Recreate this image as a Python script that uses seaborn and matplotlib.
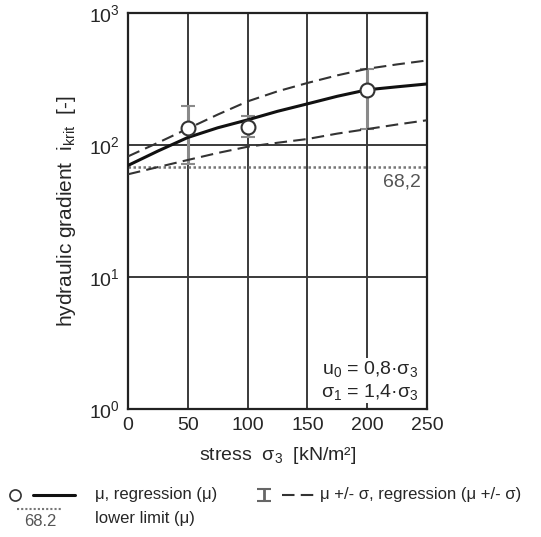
import matplotlib
matplotlib.use("Agg")
import matplotlib.pyplot as plt
import seaborn as sns
import numpy as np

# messwerte (mittelwert und streuung) je spannung
stress = [50, 100, 200]
mu = [134, 138, 262]
mu_plus = [196, 167, 378]
mu_minus = [72, 114, 132]

x_reg = [0, 25, 50, 75, 100, 125, 150, 175, 200, 225, 250]
reg_mu = [70, 90, 114, 135, 155, 180, 205, 234, 262, 276, 290]
reg_plus = [82, 104, 133, 170, 214, 255, 295, 337, 378, 408, 437]
reg_minus = [60, 68, 77, 87, 97, 104, 111, 122, 132, 143, 154]

lower_limit = 68.2

sns.set_theme(style="white")
plt.rcParams['font.family'] = ['Liberation Sans', 'DejaVu Sans']
plt.rcParams['mathtext.fontset'] = 'custom'
plt.rcParams['mathtext.rm'] = 'Liberation Sans'
plt.rcParams['mathtext.it'] = 'Liberation Sans'

fig = plt.figure(figsize=(5.41, 5.37), dpi=100)
ax = fig.add_axes([128 / 541, 1 - 409 / 537, 299 / 541, 396 / 537])

grid_col = '#3a3a3a'
for gx in [50, 100, 150, 200]:
    ax.axvline(gx, color=grid_col, lw=1.4, zorder=1)
for gy in [10, 100]:
    ax.axhline(gy, color=grid_col, lw=1.4, zorder=1)

# untere grenze
ax.axhline(lower_limit, color='#777777', lw=1.8, ls=(0, (1, 1)), zorder=2)
ax.text(245, 52, '68,2', ha='right', va='center', fontsize=14, color='#555555')

# fehlerbalken
yerr = [np.array(mu) - np.array(mu_minus), np.array(mu_plus) - np.array(mu)]
ax.errorbar(stress, mu, yerr=yerr, fmt='none', ecolor='#8a8a8a', elinewidth=2.2,
            capsize=5, capthick=1.5, zorder=3)

# regression
sns.lineplot(x=x_reg, y=reg_plus, ax=ax, color='#333333', lw=1.5, linestyle=(0, (6, 3)), zorder=4)
sns.lineplot(x=x_reg, y=reg_minus, ax=ax, color='#333333', lw=1.5, linestyle=(0, (6, 3)), zorder=4)
sns.lineplot(x=x_reg, y=reg_mu, ax=ax, color='#111111', lw=2.2, zorder=5)

ax.plot(stress, mu, 'o', ms=10, mfc='white', mec='#333333', mew=1.5, zorder=6)

ax.text(243, 2.0, 'u$_0$ = 0,8·σ$_3$', ha='right', va='center', fontsize=14,
        bbox=dict(facecolor='white', edgecolor='none', pad=1), zorder=7)
ax.text(243, 1.35, 'σ$_1$ = 1,4·σ$_3$', ha='right', va='center', fontsize=14,
        bbox=dict(facecolor='white', edgecolor='none', pad=1), zorder=7)

ax.set_yscale('log')
ax.set_xlim(0, 250)
ax.set_ylim(1, 1000)
ax.set_xticks([0, 50, 100, 150, 200, 250])
ax.tick_params(axis='both', labelsize=14, length=0, pad=6)
ax.minorticks_off()
for s in ax.spines.values():
    s.set_color('#222222')
    s.set_linewidth(1.6)

ax.set_xlabel('stress  σ$_3$  [kN/m²]', fontsize=14, labelpad=8)
ax.set_ylabel('hydraulic gradient  i$_{krit}$  [-]', fontsize=15, labelpad=8)

# legende unten, von hand gesetzt
lg = fig.add_axes([0, 0, 1, 1], facecolor='none')
lg.set_xlim(0, 541)
lg.set_ylim(537, 0)
lg.axis('off')
lg.plot([15], [495], 'o', ms=8, mfc='white', mec='#333333', mew=1.2)
lg.plot([33, 75], [495, 495], color='#111111', lw=2.2)
lg.text(95, 495, 'μ, regression (μ)', va='center', fontsize=12)
lg.plot([17, 62], [509, 509], color='#777777', lw=1.5, ls=(0, (1, 1)))
lg.text(40, 521, '68.2', ha='center', va='center', fontsize=12, color='#555555')
lg.text(95, 519, 'lower limit (μ)', va='center', fontsize=12)
lg.errorbar([264], [495], yerr=[[6], [6]], fmt='none', ecolor='#666666', elinewidth=2,
            capsize=5, capthick=1.5)
lg.plot([282, 318], [495, 495], color='#333333', lw=1.5, ls=(0, (6, 3)))
lg.text(320, 495, 'μ +/- σ, regression (μ +/- σ)', va='center', fontsize=12)

fig.savefig('out.png', dpi=100)
